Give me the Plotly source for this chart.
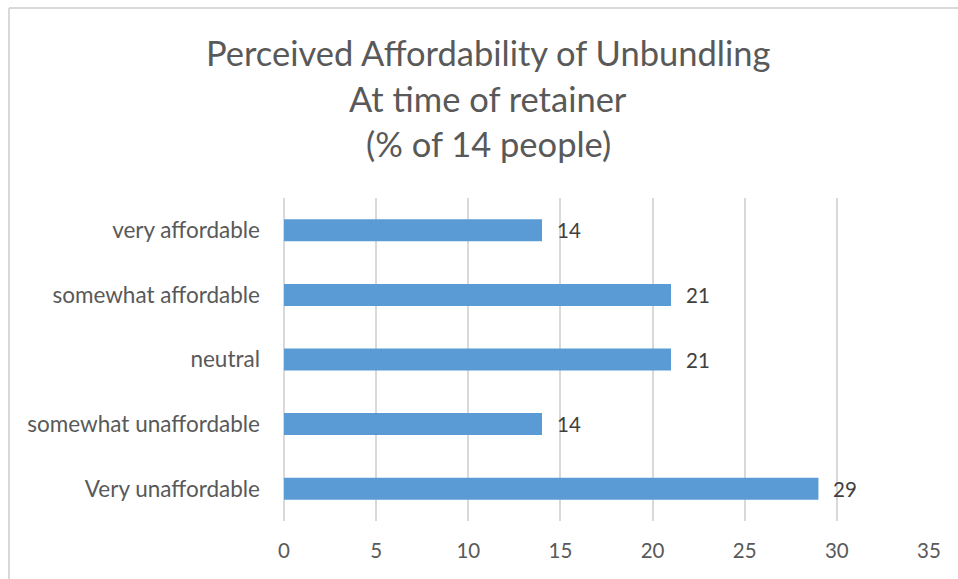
import plotly.graph_objects as go

# Survey responses (% of 14 people)
categories = ["very affordable", "somewhat affordable", "neutral",
              "somewhat unaffordable", "Very unaffordable"]
values = [14, 21, 21, 14, 29]
x_ticks = [0, 5, 10, 15, 20, 25, 30, 35]
title_lines = ["Perceived Affordability of Unbundling",
               "At time of retainer",
               "(% of 14 people)"]

W, H = 958, 579
ML, MR, MT, MB = 284, 29, 198, 58
PW, PH = W - ML - MR, H - MT - MB

FONT = "Lato"
BAR = "#5B9BD5"
GRID = "#D9D9D9"
TXT = "#595959"

fig = go.Figure(go.Bar(
    x=values,
    y=categories,
    orientation="h",
    marker=dict(color=BAR, line=dict(width=0)),
    width=0.34,
    hoverinfo="x+y",
))

# value labels just past each bar end
for cat, v in zip(categories, values):
    fig.add_annotation(x=v, y=cat, text=str(v), showarrow=False,
                       xanchor="left", xshift=13,
                       font=dict(family=FONT, size=20.5, color="#404040"))

# three-line chart title, centred over the chart frame
title_y = [52, 98, 143]
for line, py in zip(title_lines, title_y):
    fig.add_annotation(xref="paper", yref="paper",
                       x=(488 - ML) / PW, y=1 + (MT - py) / PH,
                       text=line, showarrow=False,
                       xanchor="center", yanchor="middle",
                       font=dict(family=FONT, size=34.5, color=TXT))

# light chart frame (top and left edges)
fx0 = (9 - ML) / PW
fy0 = 1 + (MT - 8) / PH
fig.add_shape(type="line", xref="paper", yref="paper",
              x0=fx0, x1=(W + 5 - ML) / PW, y0=fy0, y1=fy0,
              line=dict(color=GRID, width=2))
fig.add_shape(type="line", xref="paper", yref="paper",
              x0=fx0, x1=fx0, y0=fy0, y1=-(MB + 5) / PH,
              line=dict(color=GRID, width=2))

fig.update_layout(
    width=W, height=H,
    margin=dict(l=ML, r=MR, t=MT, b=MB),
    paper_bgcolor="white",
    plot_bgcolor="white",
    showlegend=False,
    font=dict(family=FONT, color=TXT),
    xaxis=dict(
        range=[0, 35],
        tickvals=x_ticks,
        ticktext=[str(t) for t in x_ticks],
        showgrid=True, gridcolor=GRID, gridwidth=1.6,
        zeroline=True, zerolinecolor=GRID, zerolinewidth=1.6,
        showline=False,
        tickfont=dict(family=FONT, size=20.5, color=TXT),
        ticklabelstandoff=15,
        fixedrange=True,
    ),
    yaxis=dict(
        categoryorder="array",
        categoryarray=categories[::-1],
        range=[-0.5, 4.5],
        showgrid=False, zeroline=False, showline=False,
        tickfont=dict(family=FONT, size=22.5, color=TXT),
        ticklabelstandoff=23,
        fixedrange=True,
    ),
)

fig.write_html("out.html")
